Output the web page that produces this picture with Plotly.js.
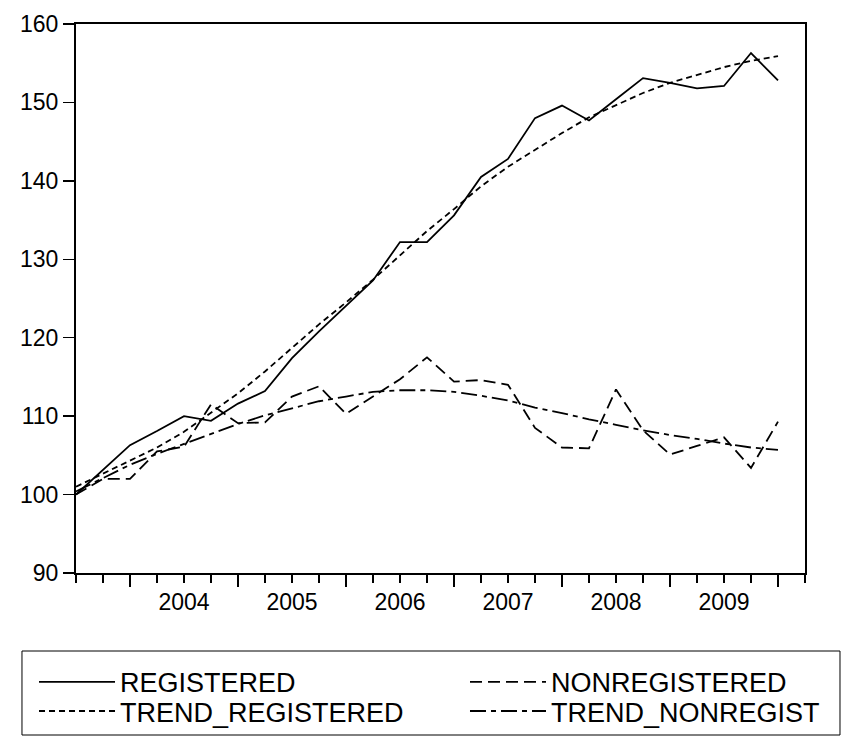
<!DOCTYPE html>
<html>
<head>
<meta charset="utf-8">
<script src="https://cdn.plot.ly/plotly-3.0.1.min.js"></script>
<style>html,body{margin:0;padding:0;background:#fff;}#chart{width:856px;height:736px;}</style>
</head>
<body>
<div id="chart"></div>
<script>
const periods = ['2003Q3','2003Q4','2004Q1','2004Q2','2004Q3','2004Q4','2005Q1','2005Q2','2005Q3','2005Q4',
  '2006Q1','2006Q2','2006Q3','2006Q4','2007Q1','2007Q2','2007Q3','2007Q4','2008Q1','2008Q2','2008Q3','2008Q4',
  '2009Q1','2009Q2','2009Q3','2009Q4','2010Q1'];
const registered = [100.0,103.1,106.3,108.1,110.0,109.4,111.6,113.2,117.4,120.8,124.0,127.3,132.2,132.2,135.6,140.5,142.8,148.0,149.6,147.7,150.4,153.1,152.5,151.8,152.1,156.3,152.8];
const nonregistered = [100.0,102.0,102.0,105.5,106.1,111.5,109.1,109.2,112.5,113.8,110.3,112.5,114.7,117.5,114.4,114.6,114.0,108.5,106.0,105.9,113.4,108.2,105.1,106.2,107.3,103.4,109.3];
const trendRegistered = [101.0,102.7,104.4,106.0,108.0,110.4,112.9,115.7,118.7,121.7,124.5,127.4,130.5,133.6,136.4,139.3,141.8,144.0,146.1,148.1,149.7,151.2,152.5,153.5,154.5,155.3,155.9];
const trendNonregist = [100.4,102.1,103.8,105.2,106.5,107.8,109.0,110.1,111.0,111.9,112.5,113.1,113.3,113.3,113.1,112.6,112.0,111.1,110.4,109.6,108.9,108.2,107.6,107.1,106.5,106.0,105.7];
const yearTickPos = [2,6,10,14,18,22,26];
const yearLabels = ['2004','2005','2006','2007','2008','2009',''];

const xIdx = periods.map((p, i) => i);
const FONT = 'Liberation Sans, Arial, sans-serif';

const traces = [
  {x: xIdx, y: registered, name: 'REGISTERED', legend: 'legend', mode: 'lines', line: {color: '#000', width: 1.8, dash: 'solid'}},
  {x: xIdx, y: nonregistered, name: 'NONREGISTERED', legend: 'legend2', mode: 'lines', line: {color: '#000', width: 1.8, dash: '12px,6px'}},
  {x: xIdx, y: trendRegistered, name: 'TREND_REGISTERED', legend: 'legend3', mode: 'lines', line: {color: '#000', width: 1.8, dash: '6px,4px'}},
  {x: xIdx, y: trendNonregist, name: 'TREND_NONREGIST', legend: 'legend4', mode: 'lines', line: {color: '#000', width: 1.8, dash: '16px,5px,5px,5px'}}
];

const legCommon = {
  orientation: 'h', xanchor: 'left', yanchor: 'middle',
  bgcolor: 'rgba(0,0,0,0)', borderwidth: 0,
  font: {family: FONT, size: 27, color: '#000'},
  itemwidth: 76
};
const col1 = -0.0576, col2 = 0.5336, row1 = -0.1990, row2 = -0.2522;

const layout = {
  width: 856, height: 736,
  margin: {l: 76, r: 51, t: 24, b: 163, autoexpand: false},
  paper_bgcolor: '#fff', plot_bgcolor: '#fff',
  font: {family: FONT, color: '#000', size: 22},
  showlegend: true,
  legend: Object.assign({}, legCommon, {x: col1, y: row1}),
  legend2: Object.assign({}, legCommon, {x: col2, y: row1}),
  legend3: Object.assign({}, legCommon, {x: col1, y: row2}),
  legend4: Object.assign({}, legCommon, {x: col2, y: row2}),
  shapes: [{type: 'rect', xref: 'paper', yref: 'paper', x0: -0.0741, x1: 1.048, y0: -0.1421, y1: -0.2951,
            line: {color: '#000', width: 1}, fillcolor: 'rgba(0,0,0,0)'}],
  xaxis: {
    range: [0, 27], showgrid: false, zeroline: false,
    showline: true, linecolor: '#000', linewidth: 2, mirror: true,
    tickmode: 'array', tickvals: yearTickPos, ticktext: yearLabels,
    ticks: 'outside', ticklen: 12, tickwidth: 1.5, tickcolor: '#000',
    ticklabelshift: 54, ticklabelstandoff: -5,
    tickfont: {family: FONT, size: 23, color: '#000'},
    minor: {tickmode: 'linear', tick0: 0, dtick: 1, ticks: 'outside', ticklen: 8, tickwidth: 1.5, tickcolor: '#000', showgrid: false}
  },
  yaxis: {
    range: [90, 160], showgrid: false, zeroline: false,
    showline: true, linecolor: '#000', linewidth: 2, mirror: true,
    tickmode: 'linear', tick0: 90, dtick: 10,
    ticks: 'outside', ticklen: 11, tickwidth: 1.5, tickcolor: '#000',
    tickfont: {family: FONT, size: 23, color: '#000'}
  }
};

Plotly.newPlot('chart', traces, layout, {displayModeBar: false, staticPlot: true});
</script>
</body>
</html>
